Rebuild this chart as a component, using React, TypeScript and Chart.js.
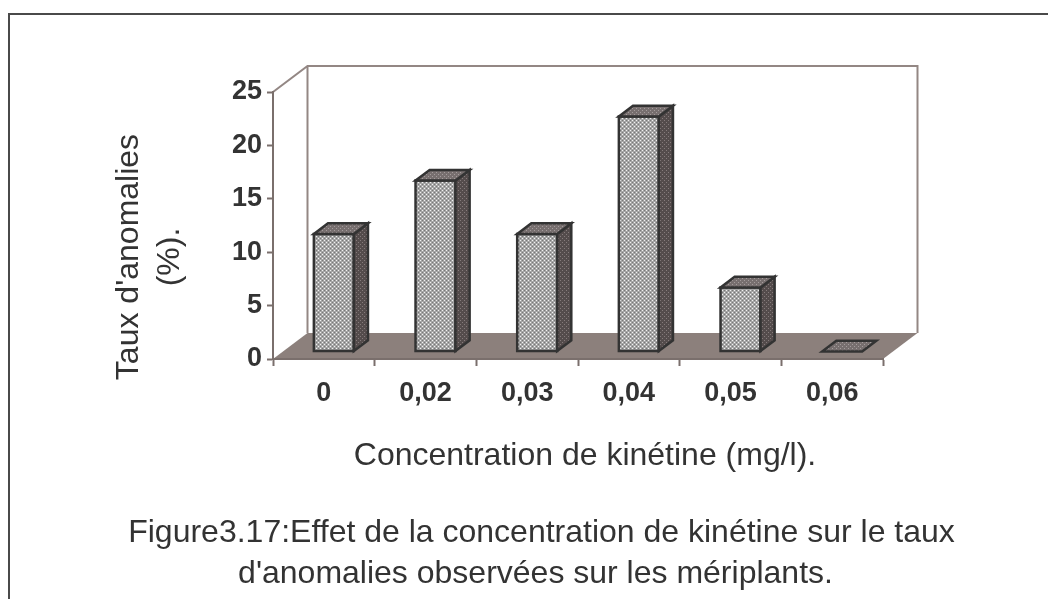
import React, { useEffect, useRef } from 'react';
import { Chart, registerables } from 'chart.js';

Chart.register(...registerables);

// ---- data ----
const categories = ['0', '0,02', '0,03', '0,04', '0,05', '0,06'];
const anomalyRates = [11, 16, 11, 22, 6, 0];
const yMin = 0;
const yMax = 25;
const yStep = 5;
const yTitleLines = ["Taux d'anomalies", '(%).'];
const xTitle = 'Concentration de kinétine (mg/l).';
const captionLines = [
  'Figure3.17:Effet de la concentration de kinétine sur le taux',
  "d'anomalies observées sur les mériplants.",
];

// ---- look ----
const W = 1048;
const H = 599;
const DX = 34.5;
const DY = -26;
const F1 = 0.29;
const F2 = 0.7;
const FONT = '"Liberation Sans", Arial, Helvetica, sans-serif';
const TEXT = '#333333';
const AXIS = '#7a6f6c';
const WALL = '#938784';
const FLOOR = '#8c807c';

function tile(base: string, a: string, b?: string): HTMLCanvasElement {
  const c = document.createElement('canvas');
  c.width = 4;
  c.height = 4;
  const g = c.getContext('2d')!;
  g.fillStyle = base;
  g.fillRect(0, 0, 4, 4);
  g.fillStyle = a;
  g.fillRect(0, 0, 1, 1);
  g.fillRect(2, 2, 1, 1);
  if (b) {
    g.fillStyle = b;
    g.fillRect(2, 0, 1, 1);
    g.fillRect(0, 2, 1, 1);
  }
  return c;
}

const scenePlugin = {
  id: 'scene3d',
  beforeDraw(chart: any) {
    const { ctx } = chart;
    const { left, right, top, bottom } = chart.chartArea;
    ctx.save();
    ctx.fillStyle = '#ffffff';
    ctx.fillRect(0, 0, W, H);
    // outer frame (top + left)
    ctx.fillStyle = '#4a4a4a';
    ctx.fillRect(8, 13, W - 8, 2);
    ctx.fillRect(8, 13, 2, H - 13);
    // floor
    ctx.fillStyle = FLOOR;
    ctx.beginPath();
    ctx.moveTo(left, bottom);
    ctx.lineTo(right, bottom);
    ctx.lineTo(right + DX, bottom + DY);
    ctx.lineTo(left + DX, bottom + DY);
    ctx.closePath();
    ctx.fill();
    // walls
    ctx.strokeStyle = WALL;
    ctx.lineWidth = 2;
    ctx.beginPath();
    ctx.moveTo(left, top);
    ctx.lineTo(left + DX, top + DY);
    ctx.lineTo(right + DX, top + DY);
    ctx.lineTo(right + DX, bottom + DY);
    ctx.moveTo(left + DX, top + DY);
    ctx.lineTo(left + DX, bottom + DY);
    ctx.stroke();
    ctx.restore();
  },
  afterDatasetsDraw(chart: any) {
    const { ctx } = chart;
    const meta = chart.getDatasetMeta(0);
    const front = ctx.createPattern(tile('#a6a6a6', '#f2f2f2', '#787878'), 'repeat');
    const side = ctx.createPattern(tile('#544c4c', '#857b7b'), 'repeat');
    const topP = ctx.createPattern(tile('#776f6f', '#a49c9c'), 'repeat');
    const bx = (F2 - F1) * DX;
    const by = (F2 - F1) * DY;
    ctx.save();
    ctx.lineWidth = 2.5;
    ctx.strokeStyle = '#333333';
    ctx.lineJoin = 'miter';
    meta.data.forEach((el: any) => {
      const p = el.getProps(['x', 'y', 'base', 'width'], true);
      const x0 = p.x - p.width / 2 + F1 * DX;
      const x1 = p.x + p.width / 2 + F1 * DX;
      const yb = p.base + F1 * DY;
      const yt = p.y + F1 * DY;
      if (yb - yt > 0.5) {
        ctx.fillStyle = front;
        ctx.beginPath();
        ctx.rect(x0, yt, x1 - x0, yb - yt);
        ctx.fill();
        ctx.stroke();
        ctx.fillStyle = side;
        ctx.beginPath();
        ctx.moveTo(x1, yb);
        ctx.lineTo(x1, yt);
        ctx.lineTo(x1 + bx, yt + by);
        ctx.lineTo(x1 + bx, yb + by);
        ctx.closePath();
        ctx.fill();
        ctx.stroke();
      }
      ctx.fillStyle = topP;
      ctx.beginPath();
      ctx.moveTo(x0, yt);
      ctx.lineTo(x1, yt);
      ctx.lineTo(x1 + bx, yt + by);
      ctx.lineTo(x0 + bx, yt + by);
      ctx.closePath();
      ctx.fill();
      ctx.stroke();
    });
    ctx.restore();
  },
  afterDraw(chart: any) {
    const { ctx } = chart;
    ctx.save();
    ctx.fillStyle = TEXT;
    ctx.font = `32px ${FONT}`;
    ctx.textBaseline = 'alphabetic';
    ctx.textAlign = 'center';
    // y title (rotated)
    ctx.save();
    ctx.translate(138, 257);
    ctx.rotate(-Math.PI / 2);
    yTitleLines.forEach((t, i) => ctx.fillText(t, 0, i * 41));
    ctx.restore();
    // x title
    ctx.fillText(xTitle, 585, 465);
    // caption
    ctx.fillText(captionLines[0], 541.5, 542);
    ctx.fillText(captionLines[1], 535.5, 583);
    ctx.restore();
  },
};

export default function App() {
  const ref = useRef<HTMLCanvasElement>(null);
  useEffect(() => {
    document.body.style.margin = '0';
    const canvas = ref.current!;
    const chart = new Chart(canvas, {
      type: 'bar',
      data: {
        labels: categories,
        datasets: [
          {
            data: anomalyRates,
            backgroundColor: 'rgba(0,0,0,0)',
            borderWidth: 0,
            barPercentage: 0.393,
            categoryPercentage: 1,
          },
        ],
      },
      options: {
        responsive: false,
        animation: false,
        devicePixelRatio: 1,
        layout: { padding: { left: 0, top: 92, right: 165, bottom: 0 } },
        plugins: { legend: { display: false }, tooltip: { enabled: false } },
        scales: {
          x: {
            grid: {
              offset: true,
              drawOnChartArea: false,
              drawTicks: true,
              tickLength: 7,
              tickColor: AXIS,
              tickWidth: 2,
            },
            border: { display: true, color: AXIS, width: 2 },
            ticks: {
              color: TEXT,
              padding: 11,
              font: { family: FONT, size: 27, weight: 'bold' },
            },
            afterFit: (s: any) => {
              s.height = 240;
            },
          },
          y: {
            min: yMin,
            max: yMax,
            grid: {
              drawOnChartArea: false,
              drawTicks: true,
              tickLength: 6,
              tickColor: AXIS,
              tickWidth: 2,
            },
            border: { display: true, color: AXIS, width: 2 },
            ticks: {
              stepSize: yStep,
              color: TEXT,
              padding: 5,
              font: { family: FONT, size: 27, weight: 'bold' },
            },
            afterFit: (s: any) => {
              s.width = 273;
            },
          },
        },
      },
      plugins: [scenePlugin],
    });
    return () => chart.destroy();
  }, []);
  return (
    <div style={{ width: W, height: H }}>
      <canvas ref={ref} width={W} height={H} style={{ display: 'block' }} />
    </div>
  );
}
